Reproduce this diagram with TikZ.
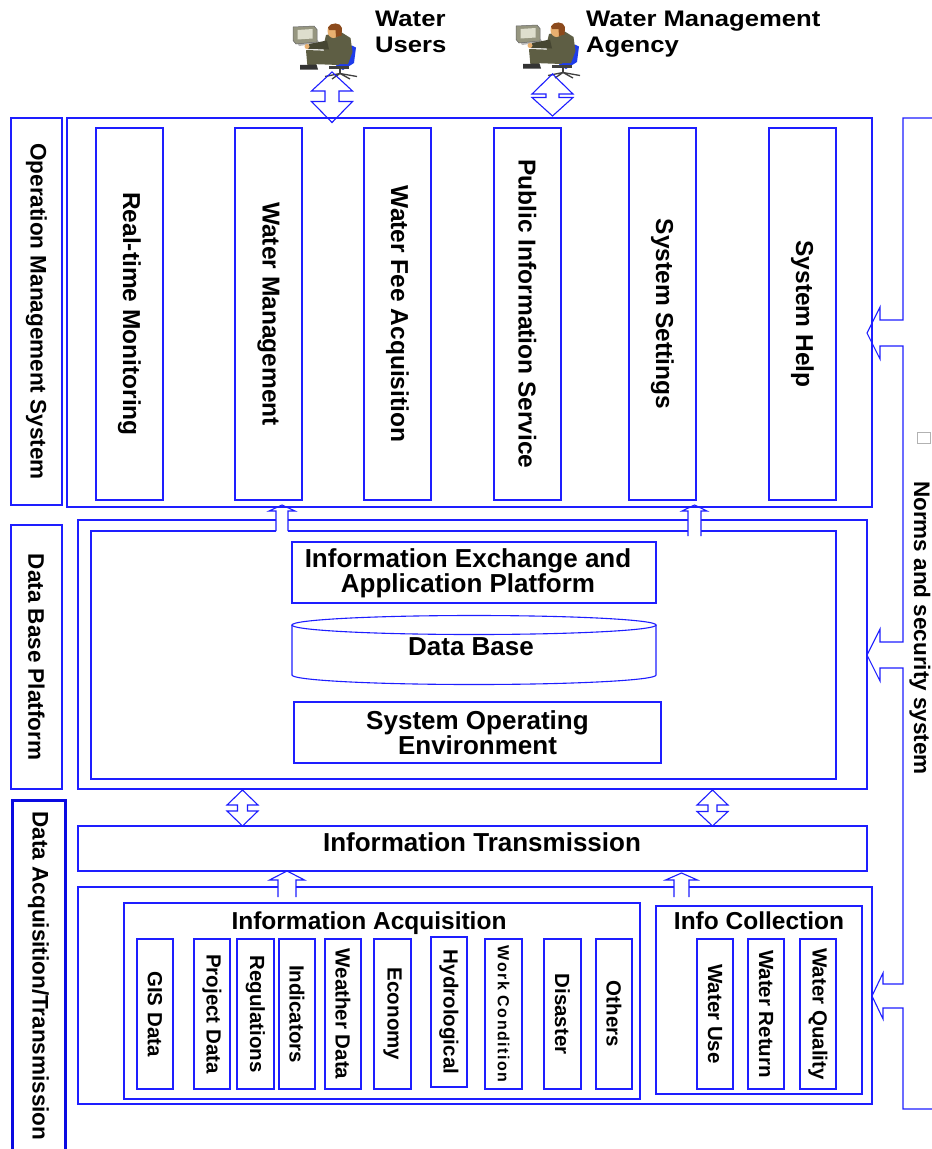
\documentclass[tikz,border=0pt]{standalone}
\usepackage{fontspec}
\setmainfont{Liberation Sans}
\newfontfamily\widesans{Liberation Sans}[FakeStretch=1.14]
\definecolor{lb}{RGB}{30,30,255}
\definecolor{lbdark}{RGB}{10,10,225}
\definecolor{suit}{RGB}{94,94,68}
\definecolor{suitdark}{RGB}{70,70,50}
\definecolor{skin}{RGB}{232,176,112}
\definecolor{hair}{RGB}{140,74,28}
\definecolor{chairblue}{RGB}{30,60,235}
\definecolor{monframe}{RGB}{150,150,128}
\definecolor{monscreen}{RGB}{222,222,205}
\newcommand\fbig{\fontsize{24.5}{25}\selectfont\bfseries}
\newcommand\fmid{\fontsize{26}{25}\selectfont\bfseries}
\newcommand\fhead{\widesans\fontsize{22.5}{25.5}\selectfont\bfseries}
\newcommand\fside{\fontsize{22.5}{22.5}\selectfont\bfseries}
\newcommand\fsmall{\fontsize{20.5}{20.5}\selectfont\bfseries}
\newcommand\fwork{\addfontfeature{LetterSpace=9}\fontsize{16}{16}\selectfont\bfseries}
% double-headed block arrow: cx, top tip, base1, base2, bottom tip, head half width, shaft half width
\newcommand\dblarrow[7]{%
  \draw[arrowline] (#1,#2) -- ({#1+#6},#3) -- ({#1+#7},#3) -- ({#1+#7},#4) -- ({#1+#6},#4)
    -- (#1,#5) -- ({#1-#6},#4) -- ({#1-#7},#4) -- ({#1-#7},#3) -- ({#1-#6},#3) -- cycle;}
% upward block arrow with an open shaft: cx, tip, head base, head half width, shaft half width, shaft end
\newcommand\openuparrow[6]{%
  \fill[white] ({#1-#5},{#6+1}) rectangle ({#1+#5},#3);
  \draw[arrowline] ({#1-#5},#6) -- ({#1-#5},#3) -- ({#1-#4},#3) -- (#1,#2)
    -- ({#1+#4},#3) -- ({#1+#5},#3) -- ({#1+#5},#6);}
\begin{document}
\begin{tikzpicture}[x=1pt,y=-1pt,
  frame/.style={draw=lb, line width=1.1pt, inner sep=0pt, outer sep=0pt},
  module/.style={frame, rotate=-90, font=\fbig, minimum width=372pt, minimum height=67pt},
  side/.style={frame, rotate=-90, font=\fside, minimum height=51pt},
  item/.style={frame, rotate=-90, font=\fsmall, minimum width=150pt, minimum height=36pt},
  block/.style={frame, font=\fmid, align=center},
  label/.style={inner sep=0pt, font=\fmid, align=center},
  arrowline/.style={draw=lb, line width=1.1pt, line join=miter},
  worker/.pic={
    % monitor and keyboard
    \fill[gray!55] (3,19) -- (24,17.5) -- (27,21) -- (6,24) -- cycle;
    \fill[monframe] (0,5) -- (21,4) -- (24,7.5) -- (24,20) -- (3,22) -- (0,18.5) -- cycle;
    \draw[black!60, line width=0.5pt] (0,5) -- (21,4) -- (24,7.5) -- (24,20) -- (3,22) -- (0,18.5) -- cycle;
    \fill[monscreen] (4.5,8) -- (19.5,7) -- (19.5,16.5) -- (4.5,17.5) -- cycle;
    % chair back
    \fill[chairblue] (51,31) -- (59,23.5) -- (63,25.5) -- (61,41) -- (50,48) -- (43,44) -- cycle;
    % lower leg and shoe
    \fill[suit] (13,28.5) -- (25,30) -- (23,45) -- (14.5,45) -- cycle;
    \fill[black!80] (7,43) -- (23.5,42.5) -- (25,47.5) -- (7,47.5) -- cycle;
    % thigh and torso
    \fill[suit] (13,28) -- (42,29) -- (46,43) -- (18,42) -- cycle;
    \fill[suit] (33,13) -- (48,10) -- (57.5,16) -- (59.5,30) -- (55,42) -- (37,42) -- (30,26) -- cycle;
    % arm and hand
    \fill[suitdark] (34,18.5) -- (16,22) -- (14.5,27) -- (36,27.5) -- cycle;
    \fill[skin] (14,24.5) circle (2.5pt);
    % head
    \fill[skin] (40.5,9) ellipse (6pt and 7pt);
    \fill[hair] (35,5.5) .. controls (37,0) and (48,0) .. (49,6) -- (48.5,13.5) -- (43,15) -- (42.5,8) -- (36,8) -- cycle;
    % seat and base
    \fill[black!75] (36,43.5) rectangle (56,47);
    \draw[black!75, line width=1.8pt] (47,46) -- (47,51.5);
    \draw[black!75, line width=1.3pt] (32,54.5) -- (47,51.5) -- (64,54.5) (39,57) -- (47,51.5) -- (57,57);
  }]
\useasboundingbox (0,0) rectangle (932,1149);
\fill[white] (0,0) rectangle (932,1149);

% users at the top
\pic at (293,22) {worker};
\pic at (516,21) {worker};
\node[inner sep=0pt, anchor=north west, align=left, font=\fhead] (users) at (375,11) {Water\\Users};
\node[inner sep=0pt, anchor=north west, align=left, font=\fhead] (agency) at (586,11) {Water Management\\Agency};

% layer titles on the left
\node[side, minimum width=387pt] (oms) at (36.5,311.5) {Operation Management System};
\node[side, minimum width=264pt] (dbp) at (36.5,657) {Data Base Platform};
\node[side, minimum width=352pt, minimum height=53pt, draw=lbdark, line width=3pt] (dat) at (38.5,976) {Data Acquisition/Transmission};

% operation management layer
\node[frame, minimum width=805pt, minimum height=389pt] (op) at (469.5,312.5) {};
\node[module] (m1) at (129.5,314) {Real-time Monitoring};
\node[module] (m2) at (268.5,314) {Water Management};
\node[module] (m3) at (397.5,314) {Water Fee Acquisition};
\node[module] (m4) at (527.5,314) {Public Information Service};
\node[module] (m5) at (662.5,314) {System Settings};
\node[module] (m6) at (802.5,314) {System Help};

% data base platform layer
\node[frame, minimum width=789pt, minimum height=269pt] (dbo) at (472.5,654.5) {};
\node[frame, minimum width=745pt, minimum height=248pt] (dbi) at (463.5,655) {};
\node[frame, minimum width=364pt, minimum height=61pt] (iex) at (474,572.5) {};
\node[label] (iextext) at (468,573) {Information Exchange and\\Application Platform};
\draw[frame] (474,625) ellipse [x radius=182pt, y radius=9.5pt];
\draw[frame] (292,625) -- (292,675) arc[start angle=180, end angle=360, x radius=182pt, y radius=9.5pt] -- (656,625);
\node[label] (dbase) at (471,647) {Data Base};
\node[block, minimum width=367pt, minimum height=61pt] (soe) at (477.5,732.5) {System Operating\\Environment};

% transmission layer
\node[frame, minimum width=789pt, minimum height=45pt] (itr) at (472.5,848.5) {};
\node[label, anchor=base] (itrtext) at (482,851) {Information Transmission};

% acquisition layer
\node[frame, minimum width=794pt, minimum height=217pt] (acq) at (475,995.5) {};
\node[frame, minimum width=516pt, minimum height=196pt] (iacq) at (382,1001) {};
\node[label, font=\fbig, anchor=base] (iacqt) at (369,929) {Information Acquisition};
\node[item] (gis) at (155,1014) {GIS Data};
\node[item] (proj) at (212,1014) {Project Data};
\node[item, minimum height=37pt] (reg) at (255.5,1014) {Regulations};
\node[item] (ind) at (297,1014) {Indicators};
\node[item] (wea) at (343,1014) {Weather Data};
\node[item, minimum height=37pt] (eco) at (392.5,1014) {Economy};
\node[item] (hyd) at (449,1012) {Hydrological};
\node[item, minimum height=37pt, font=\fwork] (work) at (503.5,1014) {Work Condition};
\node[item, minimum height=37pt] (dis) at (562.5,1014) {Disaster};
\node[item] (oth) at (614,1014) {Others};
\node[frame, minimum width=206pt, minimum height=188pt] (icol) at (759,1000) {};
\node[label, font=\fbig, anchor=base] (icolt) at (759,929) {Info Collection};
\node[item] (wuse) at (715,1014) {Water Use};
\node[item] (wret) at (766,1014) {Water Return};
\node[item] (wqual) at (818,1014) {Water Quality};

% arrows between users and layers
\dblarrow{332}{72}{91}{101.5}{122.5}{20.5}{7}
\dblarrow{552.5}{74}{94}{97.5}{116}{20.5}{6.5}
\openuparrow{282}{505}{511}{13}{6}{531}
\openuparrow{694.5}{505}{511}{12.5}{6.5}{536}
\dblarrow{242.5}{790}{805}{811}{826}{15.5}{5}
\dblarrow{712.5}{790}{805}{811.5}{826}{15.5}{4.5}
\openuparrow{287}{871}{880}{17.5}{9}{897}
\openuparrow{681.5}{873}{880}{16}{7.5}{897}

% norms and security system on the right
\draw[arrowline] (940,118) -- (903,118) -- (903,320) -- (880,320) -- (880,307) -- (867,333)
  -- (880,359) -- (880,346) -- (903,346) -- (903,642) -- (880,642) -- (880,629) -- (867,655)
  -- (880,681) -- (880,668) -- (903,668) -- (903,984) -- (883,984) -- (883,973) -- (872,996)
  -- (883,1019) -- (883,1008) -- (903,1008) -- (903,1109) -- (940,1109);
\draw[gray!60, line width=0.8pt] (917.5,432.5) rectangle (930,443);
\node[rotate=-90, anchor=base, inner sep=0pt, font=\fside] (norms) at (914,628) {Norms and security system};
\end{tikzpicture}
\end{document}
